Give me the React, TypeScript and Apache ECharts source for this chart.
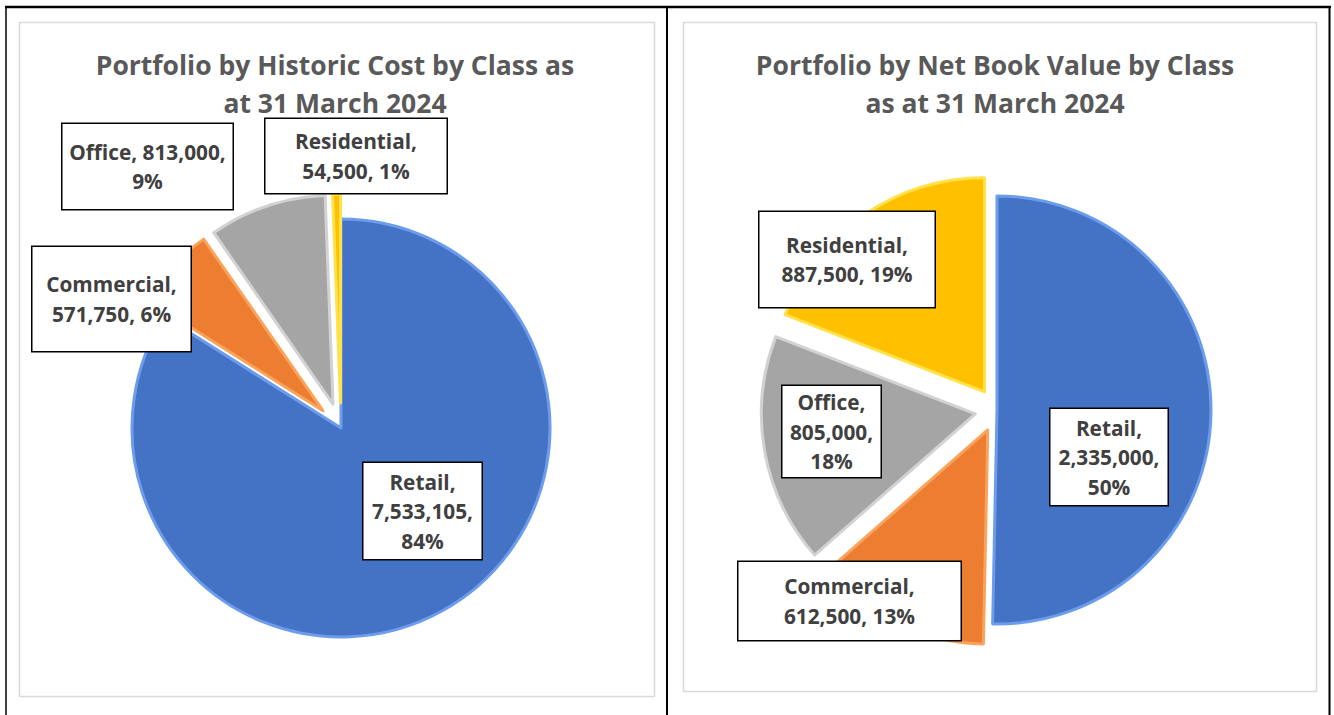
import React, { useEffect, useRef } from "react";
import * as echarts from "echarts";

const categories = ["Retail", "Commercial", "Office", "Residential"];
const historicCost = [7533105, 571750, 813000, 54500];
const netBookValue = [2335000, 612500, 805000, 887500];
const titleLeft = "Portfolio by Historic Cost by Class as\nat 31 March 2024";
const titleRight = "Portfolio by Net Book Value by Class\nas at 31 March 2024";

const COLORS = ["#4472C4", "#ED7D31", "#A5A5A5", "#FFC000"];
const EDGES = ["#6C9CEC", "#F9A35C", "#D2D2D2", "#FFE24A"];

// label layout (centres and box sizes) and line-break patterns
const leftLabelPos = [[422.5, 511], [111.5, 299], [147.5, 166.5], [356, 156]];
const leftLabelBox = [[121, 96], [161, 104], [173, 85], [184, 74]];
const leftBreaks = [["\n", "\n"], ["\n", " "], [" ", "\n"], ["\n", " "]];
const rightLabelPos = [[1109, 457], [849.5, 601], [831.5, 431.5], [847, 259.5]];
const rightLabelBox = [[120, 96], [225, 78], [101, 91], [178, 95]];
const rightBreaks = [["\n", "\n"], ["\n", " "], ["\n", "\n"], ["\n", " "]];

const LH = 29.5;
const FONT = "Open Sans";

function pieSlices(values: number[], center: number[], radius: number, offset: number) {
  return {
    type: "pie",
    center,
    radius,
    startAngle: 90,
    clockwise: true,
    selectedMode: "multiple",
    selectedOffset: offset,
    silent: true,
    label: { show: false },
    labelLine: { show: false },
    emphasis: { disabled: true, scale: false },
    data: categories.map((name, i) => ({
      name,
      value: values[i],
      selected: i !== 0,
      itemStyle: { color: COLORS[i], borderColor: EDGES[i], borderWidth: 3 },
    })),
  };
}

function pieLabels(
  values: number[],
  center: number[],
  radius: number,
  pos: number[][],
  box: number[][],
  breaks: string[][]
) {
  return {
    type: "pie",
    center,
    radius,
    startAngle: 90,
    clockwise: true,
    percentPrecision: 0,
    avoidLabelOverlap: false,
    silent: true,
    labelLine: { show: false },
    emphasis: { disabled: true, scale: false },
    itemStyle: { color: "rgba(0,0,0,0)", borderWidth: 0 },
    labelLayout: (p: any) => ({
      x: pos[p.dataIndex][0],
      y: pos[p.dataIndex][1],
      align: "center",
      verticalAlign: "middle",
    }),
    data: categories.map((name, i) => {
      const lines = breaks[i].filter((s) => s === "\n").length + 1;
      const pv = Math.max(0, (box[i][1] - lines * LH) / 2);
      return {
        name,
        value: values[i],
        label: {
          show: true,
          position: "inside",
          formatter: (p: any) =>
            `${p.name},${breaks[i][0]}${Number(p.value).toLocaleString("en-US")},${breaks[i][1]}${p.percent}%`,
          color: "#404040",
          fontFamily: FONT,
          fontWeight: "bold",
          fontSize: 20.8,
          lineHeight: LH,
          align: "center",
          backgroundColor: "#FFFFFF",
          borderColor: "#000000",
          borderWidth: 1.5,
          width: box[i][0] - 3,
          padding: [pv, 0, pv, 0],
        },
      };
    }),
  };
}

export default function App() {
  const ref = useRef<HTMLDivElement>(null);
  useEffect(() => {
    if (!ref.current) return;
    const chart = echarts.init(ref.current, undefined, { renderer: "svg" });
    const titleStyle = {
      fill: "#595959",
      font: `bold 26.5px "${FONT}"`,
      align: "center",
      verticalAlign: "middle",
      lineHeight: 38,
    };
    chart.setOption({
      animation: false,
      backgroundColor: "#FFFFFF",
      graphic: [
        { type: "rect", shape: { x: 19.5, y: 22.5, width: 635, height: 674 }, style: { fill: "none", stroke: "#D9D9D9", lineWidth: 1.5 } },
        { type: "rect", shape: { x: 683.5, y: 22.5, width: 633, height: 669 }, style: { fill: "none", stroke: "#D9D9D9", lineWidth: 1.5 } },
        { type: "line", shape: { x1: 5, y1: 7, x2: 1331, y2: 7 }, style: { stroke: "#000", lineWidth: 2.5 } },
        { type: "line", shape: { x1: 6, y1: 6, x2: 6, y2: 715 }, style: { stroke: "#000", lineWidth: 1.5 } },
        { type: "line", shape: { x1: 667, y1: 6, x2: 667, y2: 715 }, style: { stroke: "#000", lineWidth: 2 } },
        { type: "line", shape: { x1: 1329.5, y1: 6, x2: 1329.5, y2: 715 }, style: { stroke: "#000", lineWidth: 2 } },
        { type: "text", x: 335, y: 84, style: { ...titleStyle, text: titleLeft } },
        { type: "text", x: 995, y: 84, style: { ...titleStyle, text: titleRight } },
      ],
      series: [
        pieSlices(historicCost, [341, 428], 209, 25),
        pieSlices(netBookValue, [997, 410], 214, 22),
        pieLabels(historicCost, [341, 428], 209, leftLabelPos, leftLabelBox, leftBreaks),
        pieLabels(netBookValue, [997, 410], 214, rightLabelPos, rightLabelBox, rightBreaks),
      ],
    });
    return () => chart.dispose();
  }, []);
  return (
    <div
      ref={ref}
      style={{ position: "absolute", left: 0, top: 0, width: 1334, height: 715 }}
    />
  );
}
